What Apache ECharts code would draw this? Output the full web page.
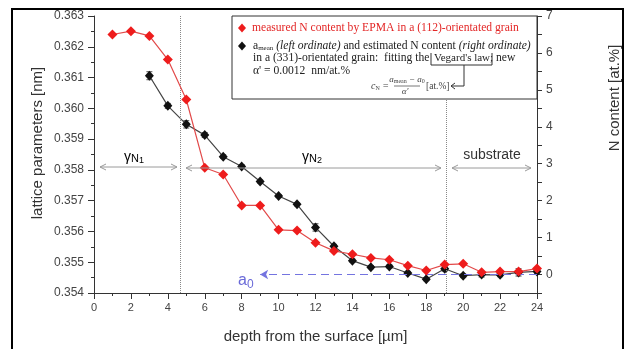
<!DOCTYPE html>
<html>
<head>
<meta charset="utf-8">
<script src="https://cdn.jsdelivr.net/npm/echarts@6/dist/echarts.min.js"></script>
<style>
html, body { margin: 0; padding: 0; background: #fff; }
#chart { width: 626px; height: 349px; }
</style>
</head>
<body>
<div id="chart"></div>
<script>
// depth from the surface [µm]
var depthRed = [1, 2, 3, 4, 5, 6, 7, 8, 9, 10, 11, 12, 13, 14, 15, 16, 17, 18, 19, 20, 21, 22, 23, 24];
// measured N content by EPMA [at.%] (right ordinate)
var nContent = [6.50, 6.59, 6.46, 5.82, 4.74, 2.89, 2.71, 1.87, 1.87, 1.21, 1.19, 0.86, 0.64, 0.55, 0.45, 0.40, 0.24, 0.11, 0.27, 0.29, 0.06, 0.08, 0.08, 0.16];
// a_mean [nm] (left ordinate)
var depthBlack = [3, 4, 5, 6, 7, 8, 9, 10, 11, 12, 13, 14, 15, 16, 17, 18, 19, 20, 21, 22, 23, 24];
var aMean = [0.36106, 0.36008, 0.35948, 0.35913, 0.35843, 0.35811, 0.35762, 0.35715, 0.35688, 0.35613, 0.35552, 0.35505, 0.35484, 0.35486, 0.35465, 0.35445, 0.35479, 0.35456, 0.35460, 0.35459, 0.35467, 0.35470];
var aErr = [0.00013, 0.00008, 0.00012, 0.00008, 0.00006, 0.00006, 0.00005, 0.00005, 0.00005, 0.00012, 0.00006, 0.00005, 0.00005, 0.00005, 0.00005, 0.00005, 0.00008, 0.00006, 0.00008, 0.00006, 0.00012, 0.00006];
// zone borders and a0 line
var zoneBorders = [4.65, 19.1];
var a0Line = [9, 24];

var sans = '"Liberation Sans", Arial, sans-serif';
var serif = '"Liberation Serif", "Times New Roman", serif';
var lgFont = '11.6px ' + serif;

var redData = depthRed.map(function(d, i) { return [d, nContent[i]]; });
var blackData = depthBlack.map(function(d, i) { return [d, aMean[i]]; });
var errData = depthBlack.map(function(d, i) { return [d, aMean[i] - aErr[i], aMean[i] + aErr[i]]; });

var myChart = echarts.init(document.getElementById('chart'));

// open arrow (chevrons at both ends)
function arrow(x1, x2, y) {
	var c = '#9a9a9a';
	return [
		{ type: 'line', z: 50, shape: { x1: x1, y1: y, x2: x2, y2: y }, style: { stroke: c, lineWidth: 1 } },
		{ type: 'polyline', z: 50, shape: { points: [[x1 + 6, y - 3], [x1, y], [x1 + 6, y + 3]] }, style: { stroke: c, lineWidth: 1, fill: null } },
		{ type: 'polyline', z: 50, shape: { points: [[x2 - 6, y - 3], [x2, y], [x2 - 6, y + 3]] }, style: { stroke: c, lineWidth: 1, fill: null } }
	];
}

function diamond(x, y, color) {
	return { type: 'polygon', z: 101, shape: { points: [[x, y - 4.5], [x + 4, y], [x, y + 4.5], [x - 4, y]] }, style: { fill: color } };
}

var gammaRich = {
	g: { fontSize: 14, fontFamily: sans, color: '#333' },
	s: { fontSize: 11, fontFamily: sans, color: '#333', padding: [4, 0, 0, 0] },
	ss: { fontSize: 9, fontFamily: sans, color: '#333', padding: [8, 0, 0, 0] }
};

var graphics = [
	// outer frame
	{ type: 'rect', z: 200, shape: { x: 12, y: 9, width: 611, height: 350 }, style: { fill: null, stroke: '#000', lineWidth: 2 } },
	// legend box
	{ type: 'rect', z: 100, shape: { x: 232, y: 16, width: 305, height: 83 }, style: { fill: '#fff', stroke: '#333', lineWidth: 1 } },
	diamond(242, 28, '#ee1c1c'),
	{ type: 'text', z: 101, x: 252, y: 28, style: { text: 'measured N content by EPMA in a (112)-orientated grain', font: lgFont, fill: '#e32626', verticalAlign: 'middle' } },
	diamond(242, 46, '#111'),
	{ type: 'text', z: 101, x: 253, y: 46, style: {
		text: 'a{s|mean} {i|(left ordinate)} and estimated N content {i|(right ordinate)}',
		font: lgFont, fill: '#222', verticalAlign: 'middle',
		rich: {
			s: { fontSize: 7, fontFamily: serif, fill: '#222', padding: [5, 0, 0, 0] },
			i: { fontSize: 11.6, fontStyle: 'italic', fontFamily: serif, fill: '#222' }
		}
	} },
	{ type: 'text', z: 101, x: 253, y: 58, style: { text: 'in a (331)-orientated grain:  fitting the', font: lgFont, fill: '#222', verticalAlign: 'middle' } },
	{ type: 'text', z: 101, x: 434, y: 58, style: { text: "Vegard's law;", font: '11px ' + serif, fill: '#222', verticalAlign: 'middle' } },
	{ type: 'text', z: 101, x: 496, y: 58, style: { text: 'new', font: lgFont, fill: '#222', verticalAlign: 'middle' } },
	{ type: 'text', z: 101, x: 253, y: 71, style: { text: "α' = 0.0012  nm/at.%", font: lgFont, fill: '#222', verticalAlign: 'middle' } },
	// bracket under Vegard's law and arrow to formula
	{ type: 'polyline', z: 101, shape: { points: [[431, 53], [431, 65], [492, 65], [492, 53]] }, style: { stroke: '#333', lineWidth: 1, fill: null } },
	{ type: 'polyline', z: 101, shape: { points: [[464, 65], [464, 86], [451, 86]] }, style: { stroke: '#333', lineWidth: 1, fill: null } },
	{ type: 'polyline', z: 101, shape: { points: [[455, 83], [451, 86], [455, 89]] }, style: { stroke: '#333', lineWidth: 1, fill: null } },
	// formula c_N = (a_mean - a_0)/alpha'
	{ type: 'text', z: 101, x: 371, y: 86, style: { text: 'c{s|N} =', font: 'italic 10px ' + serif, fill: '#444', verticalAlign: 'middle',
		rich: { s: { fontSize: 6, fontFamily: serif, fill: '#444', padding: [4, 0, 0, 0] } } } },
	{ type: 'text', z: 101, x: 407, y: 80, style: { text: 'a{s|mean} − a{s|0}', font: 'italic 9px ' + serif, fill: '#444', align: 'center', verticalAlign: 'middle',
		rich: { s: { fontSize: 6, fontFamily: serif, fill: '#444', padding: [3, 0, 0, 0] } } } },
	{ type: 'line', z: 101, shape: { x1: 394, y1: 86, x2: 420, y2: 86 }, style: { stroke: '#555', lineWidth: 0.8 } },
	{ type: 'text', z: 101, x: 405, y: 92, style: { text: "α'", font: 'italic 9px ' + serif, fill: '#444', align: 'center', verticalAlign: 'middle' } },
	{ type: 'text', z: 101, x: 426, y: 86, style: { text: '[at.%]', font: '9.5px ' + serif, fill: '#444', verticalAlign: 'middle' } },
	// zone labels
	{ type: 'text', z: 50, x: 134, y: 157, style: { text: '{g|γ}{s|N}{ss|1}', rich: gammaRich, align: 'center', verticalAlign: 'middle' } },
	{ type: 'text', z: 50, x: 312, y: 157, style: { text: '{g|γ}{s|N}{ss|2}', rich: gammaRich, align: 'center', verticalAlign: 'middle' } },
	{ type: 'text', z: 50, x: 492, y: 155, style: { text: 'substrate', font: '14px ' + sans, fill: '#333', align: 'center', verticalAlign: 'middle' } },
	// a0 label
	{ type: 'text', z: 50, x: 238, y: 281, style: { text: 'a{s|0}', font: '16px ' + sans, fill: '#6a6ad8', verticalAlign: 'middle',
		rich: { s: { fontSize: 12, fontFamily: sans, fill: '#6a6ad8', padding: [8, 0, 0, 0] } } } },
	// axis names
	{ type: 'text', z: 50, x: 38, y: 143, rotation: Math.PI / 2, style: { text: 'lattice parameters [nm]', font: '15px ' + sans, fill: '#333', align: 'center', verticalAlign: 'middle' } },
	{ type: 'text', z: 50, x: 615, y: 98, rotation: Math.PI / 2, style: { text: 'N content [at.%]', font: '15px ' + sans, fill: '#333', align: 'center', verticalAlign: 'middle' } }
].concat(arrow(100, 177, 167), arrow(186, 441, 168), arrow(452, 531, 168));

var axisCommon = {
	axisLine: { show: true, onZero: false, lineStyle: { color: '#333', width: 1 } },
	axisTick: { show: true, length: 6, lineStyle: { color: '#333' } },
	minorTick: { show: true, splitNumber: 2, length: 3, lineStyle: { color: '#333' } },
	splitLine: { show: false },
	axisLabel: { color: '#444', fontSize: 12, fontFamily: sans }
};

var option = {
	animation: false,
	backgroundColor: '#fff',
	grid: { left: 94, right: 89, top: 16, bottom: 46 },
	xAxis: echarts.util.merge({
		type: 'value',
		min: 0,
		max: 24,
		interval: 2,
		name: 'depth from the surface [µm]',
		nameLocation: 'middle',
		nameGap: 36,
		nameTextStyle: { fontSize: 15, fontFamily: sans, color: '#333' },
		axisLabel: { fontSize: 11, margin: 9 }
	}, axisCommon, false),
	yAxis: [
		echarts.util.merge({
			type: 'value',
			min: 0.354,
			max: 0.363,
			interval: 0.001,
			axisLabel: { margin: 10, formatter: function(v) { return v.toFixed(3); } }
		}, axisCommon, false),
		echarts.util.merge({
			type: 'value',
			position: 'right',
			min: -0.5,
			max: 7,
			interval: 0.5,
			axisTick: { length: 5 },
			minorTick: { show: false },
			axisLabel: { margin: 9, formatter: function(v) { return Math.abs(v - Math.round(v)) < 1e-6 ? String(Math.round(v)) : ''; } }
		}, axisCommon, false)
	],
	series: [
		{
			type: 'custom',
			name: 'error',
			yAxisIndex: 0,
			z: 3,
			data: errData,
			renderItem: function(params, api) {
				var x = api.value(0);
				var lo = api.coord([x, api.value(1)]);
				var hi = api.coord([x, api.value(2)]);
				var w = 3;
				var st = { stroke: '#555', lineWidth: 1 };
				return {
					type: 'group',
					children: [
						{ type: 'line', shape: { x1: lo[0], y1: lo[1], x2: hi[0], y2: hi[1] }, style: st },
						{ type: 'line', shape: { x1: lo[0] - w, y1: lo[1], x2: lo[0] + w, y2: lo[1] }, style: st },
						{ type: 'line', shape: { x1: hi[0] - w, y1: hi[1], x2: hi[0] + w, y2: hi[1] }, style: st }
					]
				};
			}
		},
		{
			type: 'line',
			name: 'a_mean',
			yAxisIndex: 0,
			z: 4,
			data: blackData,
			symbol: 'diamond',
			symbolSize: [9, 10],
			lineStyle: { color: '#444', width: 1.2 },
			itemStyle: { color: '#111' },
			markLine: {
				silent: true,
				symbol: 'none',
				label: { show: false },
				lineStyle: { color: '#888', type: 'dotted', width: 1 },
				data: zoneBorders.map(function(v) { return { xAxis: v }; })
			}
		},
		{
			type: 'line',
			name: 'N content',
			yAxisIndex: 1,
			z: 5,
			data: redData,
			symbol: 'diamond',
			symbolSize: [10, 10],
			lineStyle: { color: '#e24a4a', width: 1.2 },
			itemStyle: { color: '#ee1c1c' },
			markLine: {
				silent: true,
				symbol: ['none', 'none'],
				label: { show: false },
				lineStyle: { color: '#7474e0', type: [8, 5], width: 1.2 },
				data: [[{ coord: [a0Line[1], 0] }, { coord: [a0Line[0], 0], symbol: 'arrow', symbolSize: [7, 8] }]]
			}
		}
	],
	graphic: graphics
};

myChart.setOption(option);
window.onresize = function() {
	myChart.resize();
};
</script>
</body>
</html>
